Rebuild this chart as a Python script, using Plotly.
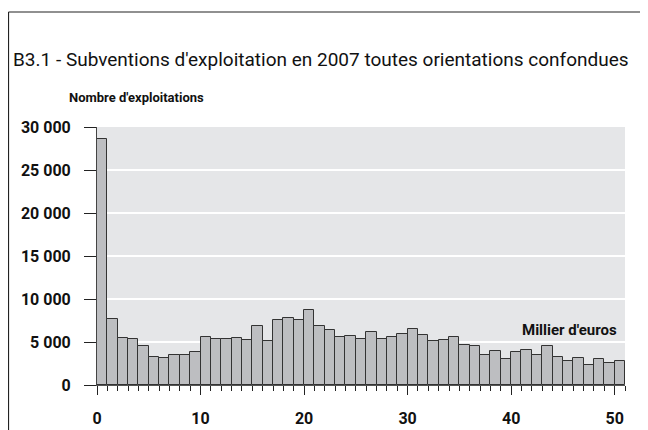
import plotly.graph_objects as go

# number of farms per 1000-euro bin of operating subsidies (2007)
bins_keur = list(range(51))
nb_exploitations = [
    28600, 7640, 5500, 5310, 4535, 3295, 3180, 3490, 3530, 3875,
    5545, 5310, 5350, 5500, 5270, 6825, 5080, 7560, 7790, 7520,
    8685, 6900, 6395, 5620, 5660, 5390, 6125, 5310, 5620, 5890,
    6475, 5815, 5080, 5200, 5545, 4615, 4535, 3450, 3955, 2985,
    3875, 4035, 3450, 4500, 3220, 2830, 3100, 2290, 3025, 2520,
    2755,
]
y_ticks = [0, 5000, 10000, 15000, 20000, 25000, 30000]
x_ticks = [0, 10, 20, 30, 40, 50]

FONT = "Roboto, Liberation Sans, sans-serif"

fig = go.Figure()
fig.add_trace(go.Bar(
    x=[b + 0.5 for b in bins_keur],
    y=nb_exploitations,
    width=1,
    marker=dict(color="#bdbec1", line=dict(color="#333333", width=1)),
    showlegend=False,
))

# the page body has an 8px margin, so the figure is drawn 8px in from the corner
OFF = 8
W, H = 640, 422
# plot area on the page: x 97..625, y 127..385
L, T = 97 - OFF, 127 - OFF
R = W - L - 528
B = H - T - 258
pw, ph = W - L - R, H - T - B

def px_x(p):  # page pixel -> paper x
    return (p - OFF - L) / pw

def px_y(p):  # page pixel -> paper y
    return (H - B - (p - OFF)) / ph

fig.update_layout(
    width=W, height=H,
    margin=dict(l=L, r=R, t=T, b=B, autoexpand=False),
    paper_bgcolor="white",
    plot_bgcolor="#e5e6e8",
    separators=", ",
    font=dict(family=FONT, size=15, color="#111111"),
    bargap=0,
    xaxis=dict(
        range=[0, 51], tickvals=x_ticks, showgrid=False, zeroline=False,
        automargin=False,
        ticks="outside", ticklen=9, tickwidth=1, tickcolor="#222222",
        minor=dict(dtick=1, tick0=0, ticks="outside", ticklen=5, tickcolor="#222222", showgrid=False),
        showline=True, linecolor="#555555", linewidth=1,
        tickfont=dict(family=FONT, size=16, color="#111111", weight="bold"),
        ticklabelstandoff=10,
    ),
    yaxis=dict(
        range=[0, 30000], tickvals=y_ticks, tickformat=",d",
        automargin=False,
        showgrid=True, gridcolor="white", gridwidth=1.5, zeroline=False,
        ticks="outside", ticklen=12, tickwidth=1, tickcolor="#222222",
        showline=True, linecolor="#444444", linewidth=1,
        tickfont=dict(family=FONT, size=16, color="#111111", weight="bold"),
        ticklabelstandoff=10,
    ),
)

# frame around the figure (top and left edges visible)
fig.add_shape(type="line", xref="paper", yref="paper",
              x0=px_x(8.5), x1=px_x(660), y0=px_y(12), y1=px_y(12),
              line=dict(color="#222222", width=1.2))
fig.add_shape(type="line", xref="paper", yref="paper",
              x0=px_x(8.5), x1=px_x(8.5), y0=px_y(12), y1=px_y(445),
              line=dict(color="#222222", width=1.2))

fig.add_annotation(
    text="B3.1 - Subventions d'exploitation en 2007 toutes orientations confondues",
    xref="paper", yref="paper", x=px_x(11), y=px_y(59),
    xanchor="left", yanchor="middle", showarrow=False,
    font=dict(family=FONT, size=19, color="#111111"),
)
fig.add_annotation(
    text="Nombre d'exploitations",
    xref="paper", yref="paper", x=px_x(67), y=px_y(97),
    xanchor="left", yanchor="middle", showarrow=False,
    font=dict(family=FONT, size=13, color="#111111", weight="bold"),
)
fig.add_annotation(
    text="Millier d'euros",
    xref="paper", yref="paper", x=px_x(619), y=px_y(330),
    xanchor="right", yanchor="middle", showarrow=False,
    font=dict(family=FONT, size=15, color="#111111", weight="bold"),
)

fig.write_html("out.html")
